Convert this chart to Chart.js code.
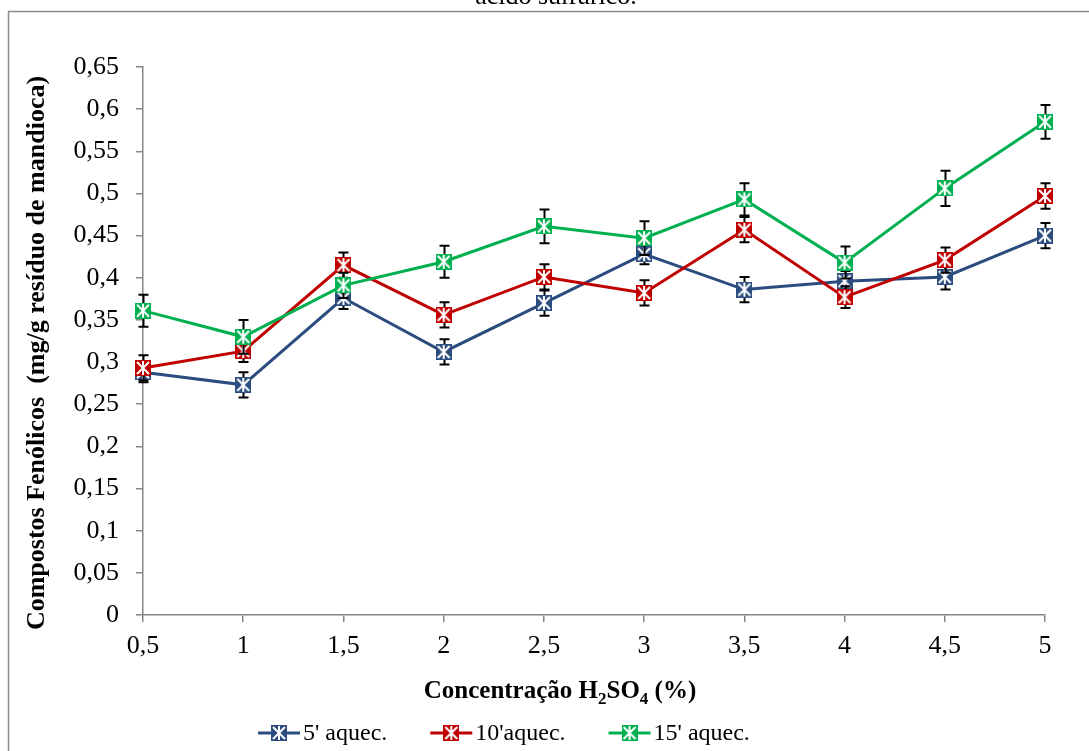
<!DOCTYPE html>
<html><head><meta charset="utf-8">
<script src="https://cdn.jsdelivr.net/npm/chart.js@4.4.1/dist/chart.umd.min.js"></script>
<style>html,body{margin:0;padding:0;background:#fff;}canvas{display:block;}</style>
</head><body>
<canvas id="c" width="1089" height="751"></canvas>
<script>
// ---- data ----
const categories = ["0,5","1","1,5","2","2,5","3","3,5","4","4,5","5"];
const seriesNames = ["5' aquec.", "10'aquec.", "15' aquec."];
const aquec5  = [0.288, 0.273, 0.376, 0.312, 0.370, 0.428, 0.386, 0.396, 0.401, 0.450];
const aquec10 = [0.293, 0.313, 0.415, 0.356, 0.401, 0.382, 0.457, 0.377, 0.421, 0.497];
const aquec15 = [0.361, 0.330, 0.391, 0.419, 0.461, 0.447, 0.493, 0.418, 0.506, 0.585];
const err5  = [0.012, 0.015, 0.013, 0.015, 0.015, 0.012, 0.015, 0.012, 0.015, 0.015];
const err10 = [0.015, 0.013, 0.015, 0.015, 0.015, 0.015, 0.015, 0.013, 0.015, 0.015];
const err15 = [0.019, 0.020, 0.015, 0.019, 0.020, 0.020, 0.019, 0.019, 0.021, 0.020];
const seriesColors = ["#2B4C7E", "#C00000", "#00B050"];
const titleText = "ácido sulfúrico.";
const yTitleText = "Compostos Fenólicos  (mg/g resíduo de mandioca)";

const SERIF = "'Liberation Serif', 'Times New Roman', serif";

function makeMarker(color) {
  const s = 16;
  const c = document.createElement('canvas');
  c.width = s; c.height = s;
  const g = c.getContext('2d');
  g.fillStyle = color;
  g.fillRect(0, 0, s, s);
  g.strokeStyle = '#ffffff';
  g.lineWidth = 2;
  g.beginPath();
  g.moveTo(2, 2); g.lineTo(s - 2, s - 2);
  g.moveTo(s - 2, 2); g.lineTo(2, s - 2);
  g.moveTo(s / 2, 1); g.lineTo(s / 2, s - 1);
  g.stroke();
  return c;
}
const markers = seriesColors.map(makeMarker);
const errs = [err5, err10, err15];

const errorBars = {
  id: 'errorBars',
  beforeDatasetDraw(chart, args) {
    const i = args.index;
    const meta = args.meta;
    const ys = chart.scales.y;
    const ds = chart.data.datasets[i];
    const ctx = chart.ctx;
    ctx.save();
    ctx.strokeStyle = '#000';
    ctx.lineWidth = 2;
    meta.data.forEach((pt, j) => {
      const v = ds.data[j], e = errs[i][j];
      const x = Math.round(pt.x) + 0.5;
      const y1 = ys.getPixelForValue(v + e), y2 = ys.getPixelForValue(v - e);
      ctx.beginPath();
      ctx.moveTo(x, y1); ctx.lineTo(x, y2);
      ctx.moveTo(x - 5, y1); ctx.lineTo(x + 5, y1);
      ctx.moveTo(x - 5, y2); ctx.lineTo(x + 5, y2);
      ctx.stroke();
    });
    ctx.restore();
  }
};

const decor = {
  id: 'decor',
  beforeDraw(chart) {
    const ctx = chart.ctx;
    ctx.save();
    ctx.fillStyle = '#fff';
    ctx.fillRect(0, 0, chart.width, chart.height);
    ctx.strokeStyle = '#8a8a8a';
    ctx.lineWidth = 1.5;
    ctx.strokeRect(8.5, 11.5, chart.width + 20, chart.height + 20);
    // partially visible caption
    ctx.fillStyle = '#000';
    ctx.font = '26px ' + SERIF;
    ctx.textAlign = 'center';
    ctx.textBaseline = 'alphabetic';
    ctx.fillText(titleText, 556, 4);
    ctx.restore();
  },
  afterDraw(chart) {
    const ctx = chart.ctx;
    ctx.save();
    ctx.fillStyle = '#000';
    // y axis title
    ctx.font = 'bold 26px ' + SERIF;
    ctx.translate(37, 353);
    ctx.rotate(-Math.PI / 2);
    ctx.textAlign = 'center';
    ctx.textBaseline = 'middle';
    ctx.fillText(yTitleText, 0, 0);
    ctx.restore();

    // x axis title with subscripts
    ctx.save();
    ctx.fillStyle = '#000';
    const big = 'bold 25px ' + SERIF, small = 'bold 17px ' + SERIF;
    const parts = [["Concentração H", big, 0], ["2", small, 6], ["SO", big, 0], ["4", small, 6], [" (%)", big, 0]];
    let w = 0;
    parts.forEach(p => { ctx.font = p[1]; w += ctx.measureText(p[0]).width; });
    let x = 560 - w / 2;
    const base = 698;
    ctx.textBaseline = 'alphabetic';
    parts.forEach(p => { ctx.font = p[1]; ctx.fillText(p[0], x, base + p[2]); x += ctx.measureText(p[0]).width; });
    ctx.restore();

    // legend
    ctx.save();
    ctx.font = '24px ' + SERIF;
    ctx.textBaseline = 'middle';
    let lx = 258;
    const ly = 733;
    chart.data.datasets.forEach((ds, i) => {
      ctx.strokeStyle = seriesColors[i];
      ctx.lineWidth = 3;
      ctx.beginPath();
      ctx.moveTo(lx, ly); ctx.lineTo(lx + 42, ly);
      ctx.stroke();
      const m = markers[i];
      ctx.drawImage(m, lx + 21 - m.width / 2, ly - m.height / 2);
      ctx.fillStyle = '#000';
      ctx.fillText(seriesNames[i], lx + 45, ly + 1);
      lx += 45 + ctx.measureText(seriesNames[i]).width + 43;
    });
    ctx.restore();
  }
};

const series = [aquec5, aquec10, aquec15];
const datasets = series.map((d, i) => ({
  label: seriesNames[i],
  data: d,
  borderColor: seriesColors[i],
  backgroundColor: seriesColors[i],
  borderWidth: 3,
  tension: 0,
  pointStyle: markers[i],
  pointRadius: 8,
  pointHoverRadius: 8,
  order: 3 - i
}));

function fmt(v) {
  const r = Math.round(v * 100) / 100;
  if (r === 0) return '0';
  return String(r).replace('.', ',');
}

new Chart(document.getElementById('c'), {
  type: 'line',
  data: { labels: categories, datasets },
  options: {
    responsive: false,
    animation: false,
    events: [],
    layout: { padding: { top: 67, right: 44, left: 0, bottom: 0 } },
    plugins: { legend: { display: false }, tooltip: { enabled: false } },
    scales: {
      x: {
        type: 'category',
        offset: false,
        afterFit(s) { s.height = 136; },
        grid: { drawOnChartArea: false, color: '#868686', tickLength: 7, lineWidth: 1.5 },
        border: { color: '#868686', width: 1.5 },
        ticks: { color: '#000', font: { family: SERIF, size: 26 }, padding: 9, maxRotation: 0, autoSkip: false }
      },
      y: {
        min: 0, max: 0.65,
        afterFit(s) { s.width = 143; },
        grid: { drawOnChartArea: false, color: '#868686', tickLength: 7, lineWidth: 1.5 },
        border: { color: '#868686', width: 1.5 },
        ticks: { stepSize: 0.05, color: '#000', font: { family: SERIF, size: 26 }, padding: 17, callback: v => fmt(v) }
      }
    }
  },
  plugins: [decor, errorBars]
});
</script>
</body></html>
